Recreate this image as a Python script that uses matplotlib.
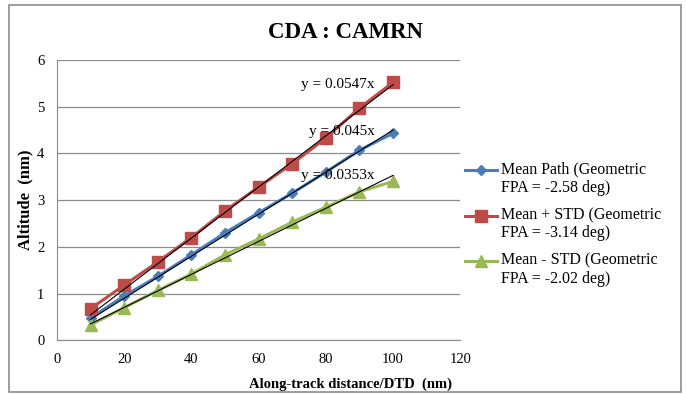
import matplotlib.pyplot as plt
from matplotlib.patches import Rectangle
from matplotlib.legend_handler import HandlerLine2D

plt.rcParams['font.family'] = ['Liberation Serif', 'DejaVu Serif']

# along-track distance (nm)
dist = [10, 20, 30, 40, 50, 60, 70, 80, 90, 100]
mean_path = [0.48, 0.95, 1.37, 1.83, 2.30, 2.73, 3.15, 3.60, 4.07, 4.43]
mean_plus = [0.68, 1.18, 1.68, 2.20, 2.77, 3.28, 3.78, 4.33, 4.97, 5.52]
mean_minus = [0.33, 0.70, 1.07, 1.42, 1.83, 2.17, 2.53, 2.85, 3.18, 3.40]
slopes = [0.0547, 0.045, 0.0353]
eq_labels = ['y = 0.0547x', 'y = 0.045x', 'y = 0.0353x']
labels = ['Mean Path (Geometric\nFPA = -2.58 deg)',
          'Mean + STD (Geometric\nFPA = -3.14 deg)',
          'Mean - STD (Geometric\nFPA = -2.02 deg)']


class TopHandler(HandlerLine2D):
    # put the legend marker level with the first text line
    def create_artists(self, legend, orig_handle, xdescent, ydescent,
                       width, height, fontsize, trans):
        return super().create_artists(legend, orig_handle, xdescent, ydescent - 13,
                                      width, height, fontsize, trans)


fig = plt.figure(figsize=(6.86, 3.94), dpi=100)
ax = fig.add_axes([0.083, 0.136, 0.588, 0.712])

ax.plot(dist, mean_path, color='#4a7ebb', lw=2.2, marker='D', ms=5, label=labels[0])
ax.plot(dist, mean_plus, color='#be4b48', lw=2.2, marker='s', ms=8, label=labels[1])
ax.plot(dist, mean_minus, color='#98b954', lw=2.2, marker='^', ms=8, label=labels[2])

# linear trendlines through origin
for s in slopes:
    ax.plot([dist[0], dist[-1]], [s * dist[0], s * dist[-1]], color='black', lw=0.8)

for lab, yy in zip(eq_labels, [5.47, 4.46, 3.52]):
    ax.text(94.5, yy, lab, ha='right', va='center', fontsize=11)

ax.set_xlim(0, 120)
ax.set_ylim(0, 6)
ax.set_xticks(range(0, 121, 20))
ax.set_yticks(range(0, 7))
ax.yaxis.grid(True, color='#8c8c8c', lw=0.9)
ax.set_axisbelow(True)
for sp in ['top', 'right']:
    ax.spines[sp].set_visible(False)
for sp in ['left', 'bottom']:
    ax.spines[sp].set_color('#8c8c8c')
ax.tick_params(length=0, labelsize=10.5, pad=9)

ax.set_xlabel('Along-track distance/DTD  (nm)', fontsize=10.5, fontweight='bold',
              ha='right', x=0.98, labelpad=8)
ax.set_ylabel('Altitude  (nm)', fontsize=12, fontweight='bold', labelpad=3)
fig.suptitle('CDA : CAMRN', fontsize=16.5, fontweight='bold', x=0.503, y=0.945)

ax.legend(loc='center left', bbox_to_anchor=(0.995, 0.414), frameon=False, fontsize=11.5,
          handlelength=2.0, handletextpad=0.25, labelspacing=0.7, borderaxespad=0,
          handler_map={l: TopHandler() for l in ax.get_lines()[:3]})

fig.add_artist(Rectangle((0.013, 0.005), 0.98, 0.982, transform=fig.transFigure,
                         fill=False, edgecolor='#8c8c8c', lw=1.2))

fig.savefig('out.png', dpi=100)
